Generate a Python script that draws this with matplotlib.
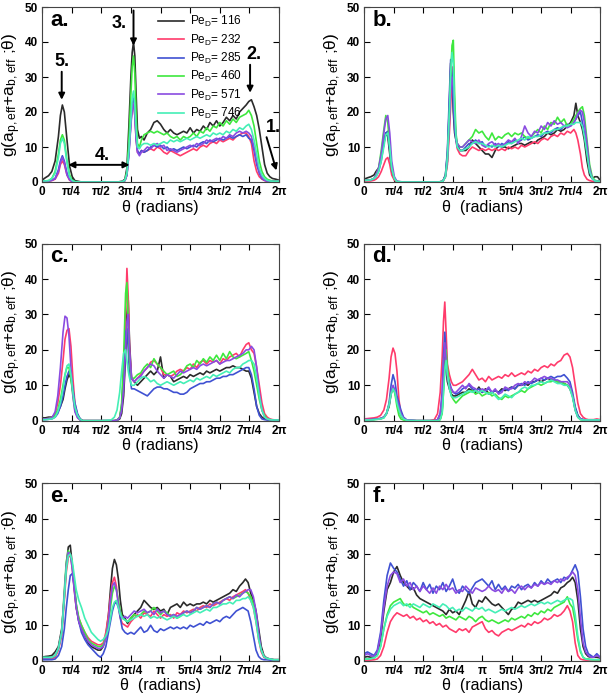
import numpy as np
import matplotlib
matplotlib.use("Agg")
import matplotlib.pyplot as plt

plt.rcParams['font.family'] = ['Liberation Sans', 'DejaVu Sans']
plt.rcParams['mathtext.default'] = 'regular'

# Pe_D values and line colours (same order in every panel)
pe_values = [116, 232, 285, 460, 571, 746]
colors = ['#2b2b2b', '#ff3b6b', '#3f51d2', '#3ee83e', '#8a4be0', '#44efb6']

xtick_labels = ['0', 'π/4', 'π/2', '3π/4', 'π', '5π/4', '3π/2', '7π/4', '2π']
panel_letters = ['a.', 'b.', 'c.', 'd.', 'e.', 'f.']

# ---------------- panel a ----------------
theta_a = [0, 5, 10, 15, 20, 25, 28, 31, 34, 38,
           42, 46, 50, 60, 80, 100, 115, 122, 126, 129,
           132, 135, 137, 139, 141, 143, 145, 148, 151, 155,
           160, 165, 170, 175, 180, 185, 190, 195, 200, 205,
           210, 215, 220, 225, 230, 235, 240, 245, 250, 255,
           260, 265, 270, 275, 280, 285, 290, 295, 300, 305,
           310, 314, 318, 322, 326, 330, 334, 338, 342, 346,
           350, 355, 360]
g_a = [
    # 116
    [0.5, 1.2, 1.8, 3, 6, 13, 19, 22, 20, 12,
     4.5, 1.5, 0.4, 0, 0, 0, 0, 0.2, 0.8, 4,
     16, 30, 37, 40, 36, 25, 15, 12.5, 13, 12,
     14, 15, 17, 17.5, 16.5, 15, 14, 15, 14, 13.5,
     14, 14.5, 14, 15.5, 14, 15, 14.5, 16, 15, 17,
     16, 17.5, 16, 17, 18.5, 17.5, 19, 18, 20, 21,
     22, 23, 23.5, 21.5, 19, 15, 10, 5, 2.5, 1.5,
     1, 0.8, 0.5],
    # 232
    [0.2, 0.2, 0.3, 0.4, 0.8, 2.5, 5, 6, 5, 2,
     0.5, 0.1, 0, 0, 0, 0, 0, 0.1, 0.4, 2,
     9, 17, 21, 22.5, 19, 12, 8.5, 8, 9, 8.5,
     9, 9.5, 9, 10, 9.5, 8.5, 8, 9, 8.5, 8,
     7.5, 8, 8.5, 9, 9.5, 9, 10, 10.5, 10, 11,
     11.5, 11, 12, 11.5, 12, 12.5, 12, 13, 13.5, 14,
     14, 13, 11, 6, 3, 1.5, 0.8, 0.4, 0.2, 0.2,
     0.2, 0.2, 0.2],
    # 285
    [0.2, 0.2, 0.3, 0.5, 1, 3.5, 6, 7.5, 6, 2.5,
     0.8, 0.2, 0, 0, 0, 0, 0, 0.1, 0.4, 2,
     8, 17, 22, 24, 20, 13, 9, 8, 9, 8.5,
     9, 10, 10.5, 10, 10.5, 9.5, 10, 9, 9.5, 9,
     9.5, 10, 9.5, 10, 10.5, 10, 11, 11.5, 11, 12,
     11.5, 12, 12.5, 12, 12.5, 13, 12.5, 13, 13.5, 13,
     13.5, 12.5, 12, 9, 5, 2.5, 1, 0.5, 0.3, 0.2,
     0.2, 0.2, 0.2],
    # 460
    [0.3, 0.3, 0.4, 1, 3, 8, 12, 13.5, 12, 6,
     2, 0.5, 0.1, 0, 0, 0, 0, 0.1, 0.5, 3,
     12, 25, 33, 36, 31, 19, 11, 10, 12, 13.5,
     14, 14.5, 14, 14.5, 14, 13.5, 14, 13, 12.5, 13,
     12, 13, 12.5, 13, 14, 13, 14.5, 14, 15.5, 14.5,
     16, 15.5, 17, 16, 17.5, 16.5, 18, 17, 18.5, 19,
     19.5, 20.5, 19, 16, 11, 6, 3, 1.5, 0.8, 0.5,
     0.3, 0.3, 0.3],
    # 571
    [0.2, 0.2, 0.3, 0.5, 1, 3, 5.5, 7, 5.5, 2,
     0.6, 0.2, 0, 0, 0, 0, 0, 0.1, 0.4, 2,
     8, 16, 21, 22.5, 19, 12, 8.5, 7.5, 8.5, 9,
     10, 9.5, 10.5, 11, 10, 10.5, 9, 9.5, 9, 8.5,
     9, 9.5, 10, 10.5, 10, 11, 10.5, 11, 12, 11.5,
     12, 12.5, 12, 13, 12.5, 13.5, 13, 14, 14.5, 14,
     14.5, 14, 13, 10, 6, 3, 1.2, 0.5, 0.3, 0.2,
     0.2, 0.2, 0.2],
    # 746
    [0.3, 0.3, 0.4, 1, 2.5, 7, 11, 12.5, 11, 5.5,
     1.5, 0.4, 0.1, 0, 0, 0, 0, 0.1, 0.5, 2.5,
     9, 18, 24, 26, 22, 15, 10, 9.5, 10.5, 11,
     11, 10.5, 11, 10.5, 11, 11.5, 11, 12, 11.5, 12,
     11.5, 12, 12.5, 12, 12.5, 13, 12.5, 13, 13.5, 13,
     14, 13.5, 14, 13.5, 14.5, 14, 15, 14.5, 15.5, 15,
     16, 16.5, 15, 12, 8, 4, 2, 1, 0.5, 0.3,
     0.2, 0.2, 0.2],
]

# ---------------- panel b ----------------
theta_b = [0, 5, 10, 15, 18, 22, 26, 30, 33, 36,
           39, 42, 46, 50, 60, 80, 100, 114, 120, 124,
           127, 130, 132, 134, 136, 138, 140, 142, 146, 150,
           155, 160, 165, 170, 175, 180, 185, 190, 195, 200,
           205, 210, 215, 220, 225, 230, 235, 240, 245, 250,
           255, 260, 265, 270, 275, 280, 285, 290, 295, 300,
           305, 310, 315, 320, 323, 326, 330, 333, 336, 340,
           344, 348, 352, 356, 360]
g_b = [
    # 116
    [0.8, 1.2, 1.5, 2, 3, 4, 7, 11, 14, 13,
     8, 3, 0.8, 0.1, 0, 0, 0, 0, 0.2, 2,
     8, 22, 34, 30, 20, 14, 12, 11, 9, 9,
     9, 10, 12, 11, 10, 9, 8, 8, 7, 9,
     10.5, 10, 10, 9.5, 10, 10.5, 11, 11, 10.5, 11,
     11.5, 11, 12, 12.5, 13, 14, 13.5, 14, 15, 14.5,
     15, 16, 17, 19, 22.5, 19, 17, 15, 12, 6,
     2, 1, 1.5, 1.5, 0.5],
    # 232
    [0.3, 0.3, 0.3, 0.5, 0.8, 1.5, 3, 5, 6.5, 7,
     5, 2, 0.5, 0, 0, 0, 0, 0, 0.2, 1.5,
     5, 14, 22, 30, 33, 20, 12, 9.5, 8, 7.5,
     7.5, 9, 10, 9.5, 9, 9.5, 9, 9.5, 9, 9.5,
     9, 9.5, 9, 10, 9.5, 10, 9.5, 10.5, 10, 10.5,
     11, 11.5, 11, 12, 12.5, 12, 13, 13.5, 13, 14,
     13.5, 14.5, 14, 15, 14, 12, 8, 4, 2, 0.8,
     0.4, 0.2, 0.2, 0.2, 0.2],
    # 285
    [0.5, 0.5, 0.6, 1, 1.5, 3, 6, 11, 14, 14.5,
     9, 3.5, 1, 0.1, 0, 0, 0, 0, 0.2, 2,
     9, 25, 35, 31, 22, 15, 12, 10, 9, 9,
     10, 11, 11, 12, 11, 11.5, 10, 10.5, 10, 11,
     10, 11, 10.5, 11.5, 11, 12, 11.5, 12, 13, 12,
     12.5, 13, 13.5, 13, 14, 14.5, 14, 15, 15.5, 15,
     16, 16.5, 16, 17, 18, 19, 20, 17, 14, 9,
     3, 1, 0.3, 0.2, 0.2],
    # 460
    [0.5, 0.5, 0.6, 1, 2, 4, 9, 15, 19, 17,
     10, 4, 1, 0.1, 0, 0, 0, 0, 0.2, 1.5,
     6, 18, 30, 39, 40.5, 25, 14, 11, 10, 10,
     11, 12, 13, 15, 14, 14.5, 13, 12, 14, 12,
     13, 12.5, 13.5, 14, 13, 14, 13.5, 14, 13, 12.5,
     13, 14, 15, 14, 16, 15, 17, 16.5, 18.5, 17,
     18, 16, 16.5, 18, 19, 20, 21, 21.5, 19, 12,
     5, 1.5, 0.5, 0.3, 0.3],
    # 571
    [0.5, 0.5, 0.6, 1, 2, 4, 8, 14, 18, 19,
     14, 6, 1.5, 0.2, 0, 0, 0, 0, 0.2, 1.5,
     6, 17, 26, 30, 27, 18, 13, 11, 10, 10,
     11, 12, 11.5, 11, 12, 10.5, 10, 11, 11.5, 10.5,
     11, 10, 11, 12, 11.5, 12.5, 11, 13, 16, 14,
     13, 14.5, 14, 16, 15, 17, 16, 17.5, 16.5, 17,
     16, 15.5, 16, 17, 18, 19.5, 20.5, 20, 17, 11,
     4, 1, 0.3, 0.2, 0.2],
    # 746
    [0.5, 0.5, 0.6, 1, 1.5, 3, 6, 10, 13.5, 14,
     10, 4, 1, 0.1, 0, 0, 0, 0, 0.2, 1.5,
     7, 20, 31, 37, 34, 21, 13, 10, 9, 9,
     9.5, 10, 11, 11.5, 11, 11, 10.5, 10, 10.5, 10,
     10.5, 10, 10.5, 11, 11, 11.5, 12, 12.5, 12, 13,
     12.5, 13, 13, 13.5, 14, 14, 14.5, 15, 15, 15.5,
     16, 16, 16.5, 16.5, 17, 17, 17, 16, 13, 8,
     3, 1, 0.3, 0.2, 0.2],
]

# ---------------- panel c ----------------
theta_c = [0, 5, 10, 15, 20, 24, 28, 32, 35, 38,
           41, 44, 47, 50, 54, 58, 62, 70, 90, 105,
           110, 114, 118, 121, 124, 127, 129, 131, 133, 136,
           140, 145, 150, 155, 160, 165, 170, 175, 180, 185,
           190, 195, 200, 205, 210, 215, 220, 225, 230, 235,
           240, 245, 250, 255, 260, 265, 270, 275, 280, 285,
           290, 295, 300, 305, 310, 314, 318, 322, 326, 330,
           334, 338, 342, 346, 350, 355, 360]
g_c = [
    # 116
    [0.8, 0.8, 1, 1, 1.5, 2.5, 4, 6, 9, 11.5,
     13, 12, 8, 4, 1.5, 0.5, 0, 0, 0, 0,
     0, 0.1, 0.5, 2, 7, 18, 30, 34, 22, 12,
     11, 10, 11, 12, 13, 14, 13, 14, 18, 12,
     13, 12.5, 11, 11.5, 12, 12.5, 12, 13, 12.5, 13,
     13.5, 13, 14, 13.5, 14, 14.5, 14, 14.5, 15, 15,
     15.5, 15, 15, 14.5, 14, 14, 12, 8, 4, 2,
     1, 0.5, 0.3, 0.3, 0.2, 0.2, 0.2],
    # 232
    [0.5, 0.5, 0.6, 0.8, 2, 5, 10, 17, 23, 25.5,
     26, 21, 12, 5, 1.5, 0.3, 0, 0, 0, 0,
     0, 0.2, 1, 4, 12, 30, 43, 35, 20, 12,
     11, 12, 13, 14, 15, 16.5, 17, 16, 15, 13,
     13, 12.5, 13, 14, 14.5, 14, 15, 14.5, 16, 15,
     16.5, 17, 16, 17, 16.5, 17, 16, 17.5, 17, 18,
     18.5, 19, 18, 20, 21.5, 22, 20, 19, 15, 10,
     5, 2, 1, 0.5, 0.3, 0.2, 0.2],
    # 285
    [0.3, 0.3, 0.4, 0.5, 1, 2, 4, 7, 10, 12.5,
     14, 13, 9, 5, 2, 0.5, 0, 0, 0, 0,
     0, 0.1, 0.8, 4, 14, 25, 26, 20, 13, 9,
     9, 8.5, 8, 7.5, 7, 8, 9, 9.5, 9.5, 9,
     9, 8.5, 8, 8, 7.5, 7.5, 8, 9, 9.5, 10,
     10.5, 10.5, 11, 11, 11.5, 12, 12, 12.5, 12.5, 13,
     13, 13.5, 14, 14.5, 15, 15, 13, 9, 4, 1.5,
     0.5, 0.3, 0.2, 0.2, 0.2, 0.2, 0.2],
    # 460
    [0.5, 0.5, 0.6, 0.8, 1.5, 3, 6, 10, 13, 15,
     15, 12, 7, 3, 1, 0.2, 0, 0, 0, 0,
     0, 0.2, 1, 5, 18, 36, 39, 28, 17, 12,
     12, 13, 13.5, 15, 16, 15, 17.5, 16, 15, 14,
     13, 13.5, 14, 12.5, 13, 14, 15.5, 16, 15, 17,
     16, 17.5, 16.5, 18, 17, 18.5, 17, 19, 17.5, 19.5,
     18, 17.5, 18, 18.5, 19, 19.5, 17, 14, 10, 6,
     3, 1.5, 0.5, 0.3, 0.2, 0.2, 0.2],
    # 571
    [0.5, 0.5, 0.6, 0.8, 2.5, 7, 15, 25, 29.5, 29,
     24, 15, 7, 2.5, 0.8, 0.2, 0, 0, 0, 0,
     0, 0.2, 0.8, 3, 9, 20, 28, 30, 20, 12,
     11, 12, 12.5, 14, 15, 16, 15.5, 14, 13, 12,
     13, 12.5, 12, 13, 14, 13.5, 14, 14.5, 15, 14.5,
     15.5, 16, 15.5, 16, 16.5, 17, 16, 16.5, 17, 17,
     17.5, 18, 18.5, 19, 20, 20, 21, 20, 15, 8,
     3, 1, 0.5, 0.3, 0.2, 0.2, 0.2],
    # 746
    [0.3, 0.3, 0.4, 0.5, 1, 2.5, 5, 9, 13, 15.5,
     16, 13, 8, 4, 1.5, 0.4, 0, 0, 0, 0.2,
     1, 3, 8, 14, 19, 20, 17, 14, 12, 10,
     10, 11, 12, 12.5, 12, 11, 11.5, 10.5, 10, 10.5,
     11, 10.5, 10, 10.5, 11, 10.5, 11, 11.5, 11, 12,
     11.5, 12, 12.5, 12, 13, 12.5, 13, 13.5, 14, 13.5,
     14.5, 15, 15, 16, 16.5, 17, 17, 16, 12, 7,
     3, 1, 0.5, 0.3, 0.2, 0.2, 0.2],
]

# ---------------- panel d ----------------
theta_d = [0, 5, 10, 15, 20, 25, 30, 34, 38, 41,
           44, 47, 50, 53, 56, 60, 65, 80, 100, 107,
           112, 116, 119, 121, 123, 125, 127, 130, 133, 136,
           140, 145, 150, 155, 160, 165, 170, 175, 180, 185,
           190, 195, 200, 205, 210, 215, 220, 225, 230, 235,
           240, 245, 250, 255, 260, 265, 270, 275, 280, 285,
           290, 295, 300, 305, 310, 314, 318, 322, 326, 330,
           334, 338, 342, 346, 350, 355, 360]
g_d = [
    # 116
    [0.3, 0.3, 0.3, 0.4, 0.5, 0.6, 1, 2, 4, 7.5,
     9.5, 8, 5.5, 3, 1.5, 0.5, 0.1, 0, 0, 0,
     0, 0.5, 3, 10, 18, 14, 11, 9, 7.5, 7,
     7, 7.5, 8, 8, 9, 8.5, 8, 9.5, 8, 9,
     7.5, 8, 8.5, 8, 9, 8.5, 9, 9.5, 9, 10,
     10, 10.5, 10, 11, 11, 11.5, 11, 11.5, 12, 11.5,
     11.5, 11, 11, 10.5, 10, 9, 7, 3.5, 1.5, 0.5,
     0.3, 0.2, 0.2, 0.2, 0.2, 0.2, 0.2],
    # 232
    [0.5, 0.6, 0.7, 0.8, 1, 1.5, 3, 6, 12, 18,
     20.5, 19, 14, 6, 2, 0.5, 0, 0, 0, 0.3,
     2, 8, 18, 28, 33.5, 25, 16, 13, 11, 10,
     10, 10.5, 11, 12, 13, 14.5, 13, 11.5, 12, 11,
     12.5, 11.5, 12, 12.5, 12, 13, 12.5, 13.5, 12.5, 13,
     13.5, 13, 14, 13.5, 14.5, 14, 15, 15.5, 15, 16,
     15.5, 16.5, 17, 18.5, 19, 18, 15, 10, 5, 2,
     1, 0.5, 0.3, 0.3, 0.3, 0.5, 0.3],
    # 285
    [0.3, 0.3, 0.3, 0.4, 0.5, 0.6, 1, 2, 5, 10,
     13, 11, 7, 5, 3, 1, 0.2, 0, 0, 0,
     0.3, 2, 8, 18, 25, 19, 13, 11, 9, 8,
     7.5, 8, 9, 9.5, 10, 9, 8.5, 9, 8, 8.5,
     9, 8, 8.5, 8, 8.5, 9, 8.5, 9.5, 9, 10,
     10.5, 10, 11, 10.5, 11, 11.5, 12, 11.5, 12, 12.5,
     12, 12.5, 12.5, 13, 12, 11, 8, 4, 1.5, 0.5,
     0.3, 0.2, 0.2, 0.2, 0.2, 0.2, 0.2],
    # 460
    [0.2, 0.2, 0.2, 0.3, 0.4, 0.5, 0.8, 2, 4.5, 8,
     9.5, 7.5, 4, 1.5, 0.5, 0.2, 0, 0, 0, 0,
     0, 0.3, 2, 8, 15, 20, 15, 10, 7, 6,
     5, 6, 7, 7.5, 8, 8.5, 7.5, 8, 7, 7.5,
     8, 7, 7.5, 6.5, 6, 7, 6.5, 7, 7.5, 8,
     8.5, 8, 9, 9.5, 10, 10.5, 10, 10.5, 11, 11,
     11.5, 11, 11, 10.5, 10, 9.5, 7, 3, 1, 0.3,
     0.2, 0.2, 0.2, 0.2, 0.2, 0.2, 0.2],
    # 571
    [0.3, 0.3, 0.3, 0.4, 0.5, 0.6, 1, 2, 4.5, 8,
     10, 8.5, 6, 4, 2, 0.8, 0.2, 0, 0, 0,
     0.3, 2, 7, 15, 22, 17, 12, 10, 9, 8,
     8, 9, 10, 9, 10.5, 9.5, 9, 8, 9, 8.5,
     9.5, 8, 9, 7.5, 8, 9.5, 9, 9, 10, 10.5,
     10, 11, 10.5, 11, 12, 11.5, 12, 12.5, 12, 12,
     11.5, 11.5, 11, 11, 11, 10, 7, 3, 1, 0.5,
     0.3, 0.2, 0.2, 0.2, 0.2, 0.2, 0.2],
    # 746
    [0.2, 0.2, 0.2, 0.3, 0.4, 0.5, 0.8, 2, 4.5, 7.5,
     9, 8, 5, 3, 1.5, 0.5, 0.1, 0, 0, 0,
     0, 0.3, 2.5, 8, 14, 17, 13, 9, 7, 6.5,
     6.5, 7, 7.5, 8, 8.5, 8, 8.5, 8, 8.5, 8,
     7.5, 8, 7, 6, 6.5, 7.5, 7, 6.5, 7.5, 8,
     9, 9.5, 9, 10, 10, 10.5, 11, 10.5, 11, 11.5,
     11, 10.5, 10.5, 10, 10, 9, 6.5, 3, 1, 0.3,
     0.2, 0.2, 0.2, 0.2, 0.2, 0.2, 0.2],
]

# ---------------- panel e ----------------
theta_e = [0, 5, 10, 15, 20, 25, 30, 34, 37, 40,
           43, 46, 49, 52, 56, 60, 65, 70, 75, 80,
           85, 89, 93, 97, 101, 104, 107, 110, 113, 116,
           119, 122, 126, 130, 135, 140, 145, 150, 155, 160,
           165, 170, 175, 180, 185, 190, 195, 200, 205, 210,
           215, 220, 225, 230, 235, 240, 245, 250, 255, 260,
           265, 270, 275, 280, 285, 290, 295, 300, 305, 309,
           313, 317, 321, 325, 329, 333, 337, 341, 346, 352,
           360]
g_e = [
    # 116
    [1, 1.2, 1.3, 1.5, 2.5, 4, 9, 18, 27, 32,
     32.5, 27, 21, 15, 11, 9, 7, 5, 4, 3.5,
     3, 3, 4, 7, 13, 20, 26, 28.5, 27, 23,
     17, 13, 12, 10.5, 12, 13, 14, 15, 17, 16,
     15, 14.5, 15, 14, 14.5, 13, 15, 15.5, 16, 15,
     16.5, 15.5, 16, 15.5, 16, 16, 16.5, 16, 17, 16.5,
     17, 17.5, 18, 18.5, 19, 20, 19.5, 21, 22, 23,
     22, 19, 17, 14, 9, 4, 1.5, 0.8, 0.5, 0.3,
     0.3],
    # 232
    [0.5, 0.5, 0.5, 0.6, 1, 3, 7, 17, 25, 29,
     30, 26, 20, 15, 12, 10, 8, 6.5, 5.5, 5,
     4.5, 4.5, 5, 8, 13, 18, 22, 23.5, 21, 16,
     12, 10.5, 10, 9.5, 11, 12, 13, 12, 13.5, 13,
     12.5, 14, 13, 12, 13, 12.5, 13, 12, 13.5, 13,
     14, 13.5, 14, 14.5, 14, 15, 15.5, 15, 16, 15.5,
     16, 16.5, 17, 17.5, 17, 18, 18.5, 19, 19.5, 20,
     19, 17, 15, 11, 6, 2.5, 1, 0.6, 0.4, 0.3,
     0.3],
    # 285
    [0.3, 0.3, 0.3, 0.3, 0.5, 1.5, 4, 9, 15, 20,
     24, 24.5, 21, 16, 11, 8, 6, 4.5, 3.5, 2.5,
     1.5, 1, 2, 4, 8, 11, 14, 16, 16.5, 15,
     12, 9, 8, 7.5, 8, 7.5, 8.5, 9.5, 8, 8.5,
     10, 8.5, 8, 9, 8.5, 9, 9.5, 9, 9.5, 9,
     9.5, 9, 10, 9.5, 10, 10.5, 10, 11, 10.5, 11,
     11.5, 11, 12, 12.5, 12, 13, 14, 14.5, 15, 14.5,
     14, 11, 7, 3, 1.2, 0.5, 0.3, 0.3, 0.2, 0.2,
     0.2],
    # 460
    [0.8, 0.8, 0.8, 0.9, 1.5, 3.5, 8, 20, 28, 31,
     30, 27, 22, 16, 12, 10, 8, 6, 5, 4.5,
     4, 4, 4.5, 6.5, 11, 15, 19, 21, 20, 17,
     14, 12, 11.5, 11, 12, 13, 12.5, 13, 14, 13.5,
     14, 15, 14, 13, 14, 13.5, 12.5, 13, 12, 12.5,
     13.5, 14, 13.5, 14, 15, 14.5, 15, 15.5, 15, 16,
     16.5, 16, 17, 17.5, 18, 17.5, 18, 18.5, 19, 19.5,
     19, 18, 16, 12, 7, 3, 1.2, 0.7, 0.5, 0.3,
     0.3],
    # 571
    [0.8, 0.8, 0.8, 0.9, 1.5, 3.5, 8, 19, 27, 30.5,
     30, 26, 20, 15, 11, 9, 7, 5.5, 4.5, 4,
     3.5, 3.5, 4, 6, 11, 17, 21, 22, 20, 16,
     13, 12, 12.5, 12, 13, 14, 13.5, 14, 14.5, 13.5,
     14, 13, 14.5, 13.5, 14, 13, 12.5, 13, 12.5, 13,
     13.5, 14, 13.5, 14, 15, 14.5, 15, 15.5, 15, 16,
     16.5, 16, 17, 17.5, 18, 17.5, 18.5, 18, 19, 19.5,
     20, 20, 18, 14, 8, 3, 1.2, 0.7, 0.5, 0.3,
     0.3],
    # 746
    [1, 1, 1, 1, 1.5, 3.5, 8, 18, 26, 29.5,
     30, 28, 24, 20, 17, 15, 12, 10, 8, 7,
     6, 5.5, 6, 7, 9, 12, 15, 16.5, 17, 15,
     13, 12, 11.5, 11, 11.5, 12, 12.5, 13, 12.5, 13,
     12, 12.5, 12, 12.5, 12, 11.5, 12, 12.5, 12, 12.5,
     13, 12.5, 13, 13.5, 14, 13.5, 14, 14.5, 14, 15,
     15, 15.5, 16, 16, 16.5, 16, 17, 17, 17.5, 17.5,
     18, 17, 15, 11, 6, 3, 1.2, 0.7, 0.5, 0.3,
     0.3],
]

# ---------------- panel f ----------------
theta_f = [0, 5, 10, 15, 20, 25, 30, 35, 40, 45,
           50, 55, 60, 65, 70, 75, 80, 85, 90, 95,
           100, 105, 110, 115, 120, 125, 130, 135, 140, 145,
           150, 155, 160, 165, 170, 175, 180, 185, 190, 195,
           200, 205, 210, 215, 220, 225, 230, 235, 240, 245,
           250, 255, 260, 265, 270, 275, 280, 285, 290, 295,
           300, 305, 310, 314, 318, 322, 326, 330, 334, 338,
           342, 346, 350, 355, 360]
g_f = [
    # 116
    [1, 1.2, 1, 1, 2, 6, 14, 20, 22, 25,
     26.5, 24, 22, 21, 20, 20.5, 18.5, 17.5, 17, 16.5,
     16, 15.5, 15, 14.5, 14, 13, 14.5, 13.5, 14, 13,
     15, 17, 19.5, 16, 15, 17, 16.5, 18, 17, 16,
     15.5, 16, 15, 14, 13, 14.5, 15, 16.5, 16, 16.5,
     17, 16.5, 17, 16.5, 17, 17.5, 18, 18.5, 19.5, 19,
     20.5, 21, 22, 22.5, 23.5, 22, 17, 9, 4, 2,
     1.2, 1, 1, 1, 0.8],
    # 232
    [0.2, 0.2, 0.2, 0.3, 0.5, 1.5, 4, 8, 11, 12.5,
     13.5, 13, 12.5, 13, 12, 12.5, 11.5, 12, 11, 11.5,
     10.5, 11, 10, 10.5, 9.5, 10, 9, 8.5, 8, 9,
     8.5, 9, 8, 9.5, 10, 10.5, 11, 9, 8, 8.5,
     7.5, 7, 8, 8.5, 9, 8.5, 9, 9.5, 10, 9.5,
     10.5, 10, 11, 10.5, 11, 12, 11.5, 12, 13, 12.5,
     13, 14, 15.5, 14, 11, 5, 1.5, 0.5, 0.3, 0.2,
     0.2, 0.2, 0.2, 0.2, 0.2],
    # 285
    [2, 2.5, 2, 1.5, 3, 8, 17, 24, 27.5, 26,
     25, 23, 21, 22.5, 20, 22, 21, 19.5, 22, 20,
     21.5, 19, 21, 20, 22, 19.5, 21, 23, 20, 19,
     21, 20, 19, 20.5, 22, 22.5, 23, 22, 21, 22.5,
     20, 21.5, 20, 21, 19.5, 21, 20.5, 21.5, 20, 21,
     21.5, 20.5, 22, 21, 22.5, 21.5, 23, 22, 22.5, 23,
     22, 23.5, 23, 24, 25.5, 27, 25, 18, 9, 4,
     2, 1.5, 1, 2, 1],
    # 460
    [0.5, 0.5, 0.6, 0.8, 1.5, 4, 9, 13, 15.5, 16.5,
     17, 17.5, 16, 15.5, 16, 15, 14.5, 14, 13.5, 14,
     13, 13.5, 13, 12.5, 13, 12, 12.5, 12, 11.5, 12.5,
     12, 11.5, 12.5, 12, 11, 12, 12.5, 11.5, 11, 11.5,
     11, 10.5, 11, 11.5, 11, 12, 11.5, 12, 12.5, 12,
     13, 12.5, 13.5, 13, 14, 13.5, 14.5, 14, 15, 15.5,
     16, 16.5, 18, 16, 15, 11, 6, 2.5, 1, 0.5,
     0.5, 0.4, 0.3, 0.3, 0.3],
    # 571
    [1.5, 2, 1.5, 1.2, 2.5, 7, 15, 21, 24, 25,
     24.5, 22, 23, 21, 22, 20, 21, 19.5, 21, 20,
     19, 20.5, 19, 21, 20, 21.5, 20, 20.5, 19, 20,
     19.5, 21, 20, 19, 20.5, 20, 19.5, 20, 21, 20,
     19.5, 20, 19, 20.5, 19.5, 20, 19, 20.5, 21, 20,
     21, 20.5, 21.5, 21, 22, 21.5, 22, 21.5, 22.5, 22,
     23, 22.5, 23.5, 24, 25, 24, 20, 12, 5, 2.5,
     1.5, 1, 1, 1.5, 1],
    # 746
    [0.5, 0.5, 0.6, 0.8, 1.5, 4, 9, 12.5, 14.5, 15.5,
     16, 16.5, 15.5, 16, 15, 16, 15.5, 15, 16, 15.5,
     15, 16, 15.5, 15, 16, 15.5, 14.5, 15, 14, 14.5,
     14, 15, 14.5, 14, 15, 14.5, 15, 14, 14.5, 14,
     13.5, 14, 14.5, 14, 14.5, 15, 14.5, 15, 15.5, 15,
     15.5, 16, 15.5, 16, 16.5, 16, 16.5, 16, 16.5, 17,
     16.5, 17, 17.5, 17.5, 17, 13, 7, 3, 1, 0.5,
     0.4, 0.3, 0.3, 0.3, 0.3],
]

panels = [(theta_a, g_a), (theta_b, g_b), (theta_c, g_c),
          (theta_d, g_d), (theta_e, g_e), (theta_f, g_f)]

# axes rectangles in figure fraction (left, bottom, width, height)
rects = [[0.069, 0.740, 0.390, 0.250], [0.599, 0.740, 0.388, 0.250],
         [0.069, 0.399, 0.390, 0.253], [0.599, 0.399, 0.388, 0.253],
         [0.069, 0.056, 0.390, 0.254], [0.599, 0.056, 0.388, 0.254]]
xlabels = ['θ (radians)', 'θ  (radians)', 'θ (radians)',
           'θ  (radians)', 'θ  (radians)', 'θ  (radians)']

fig = plt.figure(figsize=(6.08, 7.0), dpi=100)
axes = []
for i, ((theta, series), rect) in enumerate(zip(panels, rects)):
    ax = fig.add_axes(rect)
    x = np.deg2rad(theta)
    for g, c, pe in zip(series, colors, pe_values):
        ax.plot(x, g, color=c, lw=1.2, label=f'Pe$_D$= {pe}')
    ax.set_xlim(0, 2 * np.pi)
    ax.set_ylim(0, 50)
    ax.set_xticks(np.arange(9) * np.pi / 4)
    ax.set_xticklabels(xtick_labels, fontsize=8.5, fontweight='bold')
    ax.set_yticks(range(0, 51, 10))
    ax.set_yticklabels([str(v) for v in range(0, 51, 10)], fontsize=8.5, fontweight='bold')
    ax.tick_params(direction='in', length=4, width=0.8, top=True, right=True, pad=3)
    for sp in ax.spines.values():
        sp.set_linewidth(0.8)
        sp.set_color('#444444')
    ax.set_xlabel(xlabels[i], fontsize=11.5, labelpad=1)
    ax.set_ylabel('g(a$_{p,eff}$+a$_{b,eff}$ ;θ)', fontsize=12.5, labelpad=1)
    ax.text(0.035, 0.925, panel_letters[i], transform=ax.transAxes,
            fontsize=16, fontweight='bold', ha='left', va='center')
    axes.append(ax)

# legend and numbered annotations on panel a
ax = axes[0]
ax.legend(loc='upper left', bbox_to_anchor=(0.49, 0.96), frameon=False,
          fontsize=8.5, labelspacing=0.28, handlelength=2.2, handletextpad=0.5,
          borderpad=0, borderaxespad=0)

arrow = dict(arrowstyle='-|>', color='black', lw=1.4, mutation_scale=9, shrinkA=0, shrinkB=0)
ann = dict(fontsize=13, fontweight='bold', ha='center', va='center')
ax.text(np.deg2rad(30), 34.5, '5.', **ann)
ax.annotate('', xy=(np.deg2rad(30), 23.5), xytext=(np.deg2rad(30), 31.5), arrowprops=arrow)
ax.text(np.deg2rad(117), 45.4, '3.', **ann)
ax.annotate('', xy=(np.deg2rad(139), 39), xytext=(np.deg2rad(139), 49), arrowprops=arrow)
ax.text(np.deg2rad(322), 36.5, '2.', **ann)
ax.annotate('', xy=(np.deg2rad(316), 25.5), xytext=(np.deg2rad(316), 33.5), arrowprops=arrow)
ax.text(np.deg2rad(352), 15.7, '1.', **ann)
ax.annotate('', xy=(np.deg2rad(356), 3.3), xytext=(np.deg2rad(341), 12.8), arrowprops=arrow)
ax.text(np.deg2rad(91), 7.6, '4.', **ann)
ax.annotate('', xy=(np.deg2rad(40), 4.9), xytext=(np.deg2rad(133), 4.9),
            arrowprops=dict(arrowstyle='<|-|>', color='black', lw=1.4, mutation_scale=9,
                            shrinkA=0, shrinkB=0))

fig.savefig('out.png', dpi=100)
